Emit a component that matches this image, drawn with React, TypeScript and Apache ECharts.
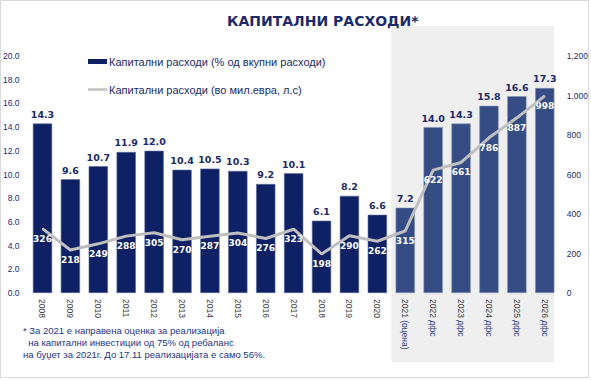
import React, { useEffect, useRef } from "react";
import * as echarts from "echarts";

const categories = [
  "2008", "2009", "2010", "2011", "2012", "2013", "2014", "2015", "2016", "2017",
  "2018", "2019", "2020", "2021 (оцена)", "2022 дфс", "2023 дфс", "2024 дфс", "2025 дфс", "2026 дфс",
];
const sharePct = [14.3, 9.6, 10.7, 11.9, 12.0, 10.4, 10.5, 10.3, 9.2, 10.1, 6.1, 8.2, 6.6, 7.2, 14.0, 14.3, 15.8, 16.6, 17.3];
const millionsEur = [326, 218, 249, 288, 305, 270, 287, 304, 276, 323, 198, 290, 262, 315, 622, 661, 786, 887, 998];
const forecastStart = 13;
const leftTicks = { min: 0, max: 20, interval: 2 };
const rightTicks = { min: 0, max: 1200, interval: 200 };
const footnote = [
  "* За 2021 е направена оценка за реализација",
  "  на капитални инвестиции од 75% од ребаланс",
  "на буџет за 2021г. До 17.11 реализацијата е само 56%.",
];

const NAVY = "#1b2a6b";
const BAR_DARK = "#0e2164";
const BAR_LIGHT = "#354c84";

export default function App() {
  const ref = useRef<HTMLDivElement>(null);
  useEffect(() => {
    document.body.style.margin = "0";
    if (!ref.current) return;
    const chart = echarts.init(ref.current, null, { renderer: "svg" });
    const font = "DejaVu Sans";
    const sans = "Liberation Sans";
    const option: any = {
      animation: false,
      backgroundColor: "#ffffff",
      textStyle: { fontFamily: font },
      title: {
        text: "КАПИТАЛНИ РАСХОДИ*",
        left: 222,
        top: 9,
        textStyle: { fontFamily: font, fontSize: 14, fontWeight: "bold", color: NAVY },
      },
      legend: {
        orient: "vertical",
        left: 83,
        top: 51,
        itemGap: 17,
        itemWidth: 19,
        itemHeight: 5,
        textStyle: { fontFamily: sans, fontSize: 11, color: NAVY, padding: [0, 0, 0, -3] },
        data: [
          { name: "Капитални расходи (% од вкупни расходи)", icon: "rect", itemStyle: { color: BAR_DARK } },
          { name: "Капитални расходи (во мил.евра, л.с)", icon: "path://M0 0H22V3H0Z", itemStyle: { color: "#c4c4c4" } },
        ],
      },
      grid: { left: 28, right: 31, top: 56, bottom: 88 },
      xAxis: {
        type: "category",
        data: categories,
        axisLine: { show: false },
        axisTick: { show: false },
        axisLabel: {
          rotate: -90, fontSize: 8.5, color: "#404040", margin: 6, fontFamily: sans, interval: 0,
          formatter: (v: string) => {
            const sp = v.indexOf(" ");
            if (sp < 0) return `{y|${v}}`;
            return `{y|${v.slice(0, sp)}} {s|${v.slice(sp + 1)}}`;
          },
          rich: {
            y: { fontSize: 8.5, color: "#404040", fontFamily: sans },
            s: { fontSize: 8.5, color: "#2c3f8c", fontFamily: sans },
          },
        },
      },
      yAxis: [
        {
          type: "value",
          ...leftTicks,
          splitLine: { show: false },
          axisLine: { show: false },
          axisTick: { show: false },
          axisLabel: {
            fontSize: 8.5, color: NAVY, margin: 9, fontFamily: sans,
            formatter: (v: number) => v.toFixed(1),
          },
        },
        {
          type: "value",
          ...rightTicks,
          splitLine: { show: false },
          axisLine: { show: false },
          axisTick: { show: false },
          axisLabel: {
            fontSize: 8.5, color: NAVY, margin: 8, fontFamily: sans,
            formatter: (v: number) => v.toLocaleString("en-US"),
          },
        },
      ],
      series: [
        {
          name: "Капитални расходи (% од вкупни расходи)",
          type: "bar",
          yAxisIndex: 0,
          barWidth: "69%",
          z: 2,
          data: sharePct.map((v, i) => ({
            value: v,
            itemStyle: {
              color: i >= forecastStart ? BAR_LIGHT : BAR_DARK,
              borderColor: i >= forecastStart ? "#8592b4" : "#5d6a99",
              borderWidth: 0.6,
            },
          })),
          label: {
            show: true,
            position: "top",
            distance: 4,
            fontSize: 9.5,
            fontWeight: "bold",
            fontFamily: font,
            color: NAVY,
            formatter: (p: any) => Number(p.value).toFixed(1),
          },
        },
        {
          name: "Капитални расходи (во мил.евра, л.с)",
          type: "line",
          yAxisIndex: 1,
          data: millionsEur,
          z: 3,
          symbol: "circle",
          symbolSize: 1,
          itemStyle: { color: "#bfbfbf" },
          lineStyle: { color: "#bfbfbf", width: 3 },
          label: {
            show: true,
            position: "bottom",
            distance: 5,
            fontSize: 9,
            fontWeight: "bold",
            fontFamily: font,
            color: "#ffffff",
          },
        },
      ],
    };
    chart.setOption(option);
    const c0 = chart.convertToPixel({ xAxisIndex: 0 }, forecastStart) as number;
    const c1 = chart.convertToPixel({ xAxisIndex: 0 }, forecastStart + 1) as number;
    const band = c1 - c0;
    const cEnd = chart.convertToPixel({ xAxisIndex: 0 }, categories.length - 1) as number;
    chart.setOption({
      graphic: [
        {
          type: "rect",
          z: -10,
          silent: true,
          shape: { x: 0.5, y: 0.5, width: 588, height: 377 },
          style: { fill: "none", stroke: "#d9d9d9", lineWidth: 1 },
        },
        {
          type: "rect",
          z: -10,
          silent: true,
          shape: { x: c0 - band / 2, y: 26, width: cEnd + band * 0.33 - (c0 - band / 2), height: 336 },
          style: { fill: "#efefef" },
        },
        ...footnote.map((t, i) => ({
          type: "text",
          z: 10,
          left: 23,
          top: 325 + i * 12,
          style: { text: t, fontSize: 9.5, fontFamily: sans, fill: "#22368a" },
        })),
      ],
    });
    return () => chart.dispose();
  }, []);
  return <div ref={ref} style={{ width: 591, height: 381 }} />;
}
